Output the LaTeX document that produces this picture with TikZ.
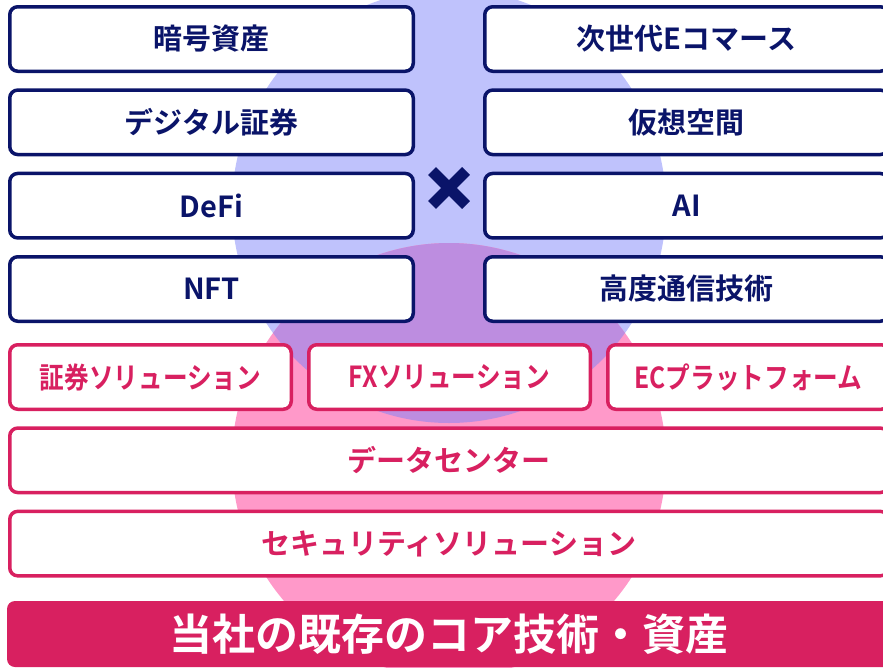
\documentclass[tikz,border=0pt]{standalone}
\usepackage{fontspec}
\usepackage{graphicx}
\setmainfont{Noto Sans CJK JP}[BoldFont={Noto Sans CJK JP Bold}]

\definecolor{corenavy}{RGB}{10,20,105}
\definecolor{coremagenta}{RGB}{216,32,96}
\definecolor{bgblue}{RGB}{191,194,252}
\definecolor{bgpink}{RGB}{255,153,201}
\definecolor{bgpurple}{RGB}{189,141,224}

\tikzset{
  fieldbox/.style={draw, fill=white, line width=3.5pt, rounded corners=8pt,
    inner sep=0pt, minimum height=64.5pt,
    font=\bfseries\fontsize{29}{29}\selectfont},
  bluebox/.style={fieldbox, draw=corenavy, text=corenavy, minimum width=403.5pt},
  pinkbox/.style={fieldbox, draw=coremagenta, text=coremagenta},
  corebar/.style={fill=coremagenta, text=white, rounded corners=8pt, inner sep=0pt,
    minimum width=884pt, minimum height=66pt,
    font=\bfseries\fontsize{43}{43}\selectfont}
}

\newcommand{\narrow}[1]{\scalebox{0.85}[1]{#1}}

\begin{document}
\begin{tikzpicture}[x=1pt,y=-1pt]
\useasboundingbox (0,0) rectangle (883,667);
\clip (0,0) rectangle (883,667);

% Background circles
\fill[bgblue] (449,206) circle[radius=217pt];
\fill[bgpink] (449,460) circle[radius=217pt];
\begin{scope}
  \clip (449,206) circle[radius=217pt];
  \fill[bgpurple] (449,460) circle[radius=217pt];
\end{scope}

% New fields, left column
\node[bluebox] (crypto) at (211.5,39) {暗号資産};
\node[bluebox] (digisec) at (211.5,122.3) {デジタル証券};
\node[bluebox] (defi) at (211.5,205.7) {DeFi};
\node[bluebox] (nft) at (211.5,289) {NFT};

% New fields, right column
\node[bluebox] (ecom) at (686.5,39) {次世代Eコマース};
\node[bluebox] (virtual) at (686.5,122.3) {仮想空間};
\node[bluebox] (ai) at (686.5,205.7) {AI};
\node[bluebox] (comm) at (686.5,289) {高度通信技術};

% Cross sign
\draw[corenavy, line width=11pt] (432,171) -- (466,205);
\draw[corenavy, line width=11pt] (466,171) -- (432,205);

% Existing solutions
\node[pinkbox, minimum width=281.5pt] (secsol) at (150.5,377) {\narrow{証券ソリューション}};
\node[pinkbox, minimum width=281.5pt] (fxsol) at (449.5,377) {\narrow{FXソリューション}};
\node[pinkbox, minimum width=281.5pt] (ecplat) at (748.5,377) {\narrow{ECプラットフォーム}};
\node[pinkbox, minimum width=878.5pt] (datacenter) at (449,460.3) {データセンター};
\node[pinkbox, minimum width=878.5pt] (security) at (449,543.6) {セキュリティソリューション};

% Core bar
\node[corebar] (core) at (449,634) {当社の既存のコア技術・資産};

\end{tikzpicture}
\end{document}
